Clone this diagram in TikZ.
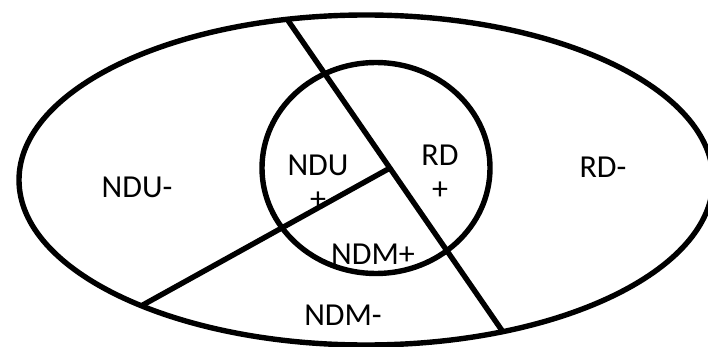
\documentclass[tikz,border=0pt]{standalone}
\usepackage{fontspec}
\setsansfont{Carlito}
\usetikzlibrary{calc}
\tikzset{
  rim/.style={draw=black, line width=5.4pt},
  cut/.style={draw=black, line width=5.4pt},
  zone/.style={font=\sffamily\fontsize{32}{34}\selectfont, text=black,
    align=center, inner sep=0pt},
}

\begin{document}
\begin{tikzpicture}[x=1pt,y=-1pt]
  \useasboundingbox (0,0) rectangle (708,347);
  % whole population and the inner core
  \draw[rim] (366,180) ellipse [x radius=347, y radius=165];
  \draw[rim] (376,168) ellipse [x radius=114, y radius=105.5];
  % the two dividing cuts
  \coordinate (topcut) at (287,19);
  \coordinate (botcut) at (503,332);
  \coordinate (hub) at (390,168);
  \coordinate (leftcut) at (141,306);
  \draw[cut] (topcut) -- (botcut);
  \draw[cut] (hub) -- (leftcut);
  % region labels
  \node[zone] (ndum) at (137,187) {NDU-};
  \node[zone] (ndup) at (318,182) {NDU\\+};
  \node[zone] (rdp)  at (440,172) {RD\\+};
  \node[zone] (rdm)  at (603,167) {RD-};
  \node[zone] (ndmp) at (373,254) {NDM+};
  \node[zone] (ndmm) at (343,315) {NDM-};
\end{tikzpicture}
\end{document}
